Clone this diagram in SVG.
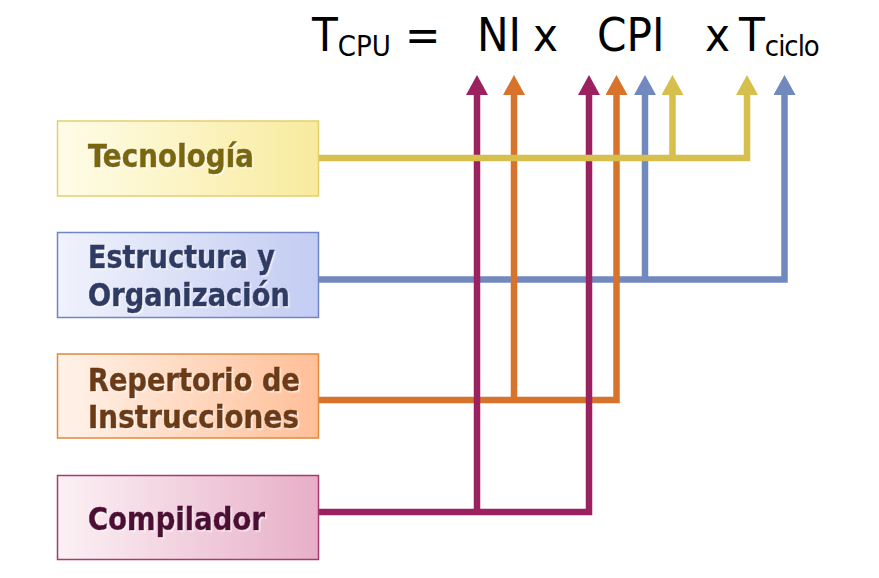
<svg xmlns="http://www.w3.org/2000/svg" width="879" height="578" viewBox="0 0 879 578">
<style>
.lbl{font-family:"DejaVu Sans Condensed","DejaVu Sans",sans-serif;font-weight:bold;font-size:32.5px;font-stretch:condensed;stroke-width:0.5}
.ttl{font-family:"DejaVu Sans Condensed","DejaVu Sans",sans-serif;font-size:47px;fill:#000;font-stretch:condensed}
.sub{font-size:29px}
.ln{fill:none;stroke-width:6.5;stroke-linejoin:miter;stroke-linecap:butt}
</style>
<defs>
<linearGradient id="gY" x1="0" y1="0" x2="1" y2="0"><stop offset="0" stop-color="#fffce8"/><stop offset="1" stop-color="#f8eb9e"/></linearGradient>
<linearGradient id="gB" x1="0" y1="0" x2="1" y2="0"><stop offset="0" stop-color="#f0f2fc"/><stop offset="1" stop-color="#c3ccf2"/></linearGradient>
<linearGradient id="gO" x1="0" y1="0" x2="1" y2="0"><stop offset="0" stop-color="#fff3ea"/><stop offset="1" stop-color="#ffbf98"/></linearGradient>
<linearGradient id="gP" x1="0" y1="0" x2="1" y2="0"><stop offset="0" stop-color="#fcf1f5"/><stop offset="1" stop-color="#e7afc7"/></linearGradient>
<filter id="sh" x="-5%" y="-20%" width="110%" height="140%"><feDropShadow dx="1.5" dy="1.5" stdDeviation="0.4" flood-color="#ffffff" flood-opacity="0.6"/></filter>
<marker id="aY" markerUnits="userSpaceOnUse" markerWidth="20" markerHeight="22" refX="0" refY="11" orient="auto" viewBox="0 0 20 22"><path d="M0,0 L20,11 L0,22 Z" fill="#d6bf4d"/></marker>
<marker id="aB" markerUnits="userSpaceOnUse" markerWidth="20" markerHeight="22" refX="0" refY="11" orient="auto" viewBox="0 0 20 22"><path d="M0,0 L20,11 L0,22 Z" fill="#7289bf"/></marker>
<marker id="aO" markerUnits="userSpaceOnUse" markerWidth="20" markerHeight="22" refX="0" refY="11" orient="auto" viewBox="0 0 20 22"><path d="M0,0 L20,11 L0,22 Z" fill="#d8732c"/></marker>
<marker id="aM" markerUnits="userSpaceOnUse" markerWidth="20" markerHeight="22" refX="0" refY="11" orient="auto" viewBox="0 0 20 22"><path d="M0,0 L20,11 L0,22 Z" fill="#9c2160"/></marker>
</defs>
<rect width="879" height="578" fill="#fff"/>

<g id="title">
<text class="ttl" x="312" y="51">T<tspan class="sub" dy="5">CPU</tspan></text>
<text class="ttl" x="405" y="51">=</text>
<text class="ttl" x="477" y="51">NI</text>
<text class="ttl" x="533" y="51">x</text>
<text class="ttl" x="597" y="51">CPI</text>
<text class="ttl" x="705" y="51">x</text>
<text class="ttl" x="739" y="51">T<tspan class="sub" dy="5" textLength="55">ciclo</tspan></text>
</g>

<g id="connectors">
<path class="ln" stroke="#7289bf" d="M318,279.5 H784.5 V95" marker-end="url(#aB)"/>
<path class="ln" stroke="#7289bf" d="M645,279.5 V95" marker-end="url(#aB)"/>
<path class="ln" stroke="#d8732c" d="M318,400 H616.5 V95" marker-end="url(#aO)"/>
<path class="ln" stroke="#d8732c" d="M514,400 V95" marker-end="url(#aO)"/>
<path class="ln" stroke="#9c2160" d="M318,512 H589 V95" marker-end="url(#aM)"/>
<path class="ln" stroke="#9c2160" d="M477,512 V95" marker-end="url(#aM)"/>
<path class="ln" stroke="#d6bf4d" d="M318,158 H747 V95" marker-end="url(#aY)"/>
<path class="ln" stroke="#d6bf4d" d="M672.5,158 V95" marker-end="url(#aY)"/>
</g>

<g id="tecnologia">
<rect x="57.5" y="121" width="261" height="75" fill="url(#gY)" stroke="#e3d06c" stroke-width="1.5"/>
<text class="lbl" x="88" y="166.5" fill="#7a6608" stroke="#7a6608" filter="url(#sh)" textLength="166" lengthAdjust="spacingAndGlyphs">Tecnología</text>
</g>
<g id="estructura">
<rect x="57.5" y="232.5" width="261" height="85" fill="url(#gB)" stroke="#7187c3" stroke-width="1.5"/>
<text class="lbl" x="88" y="268" fill="#2f3a63" stroke="#2f3a63" filter="url(#sh)" textLength="187" lengthAdjust="spacingAndGlyphs">Estructura y</text>
<text class="lbl" x="88" y="306" fill="#2f3a63" stroke="#2f3a63" filter="url(#sh)" textLength="202" lengthAdjust="spacingAndGlyphs">Organización</text>
</g>
<g id="repertorio">
<rect x="57.5" y="354" width="261" height="84" fill="url(#gO)" stroke="#e4893a" stroke-width="1.5"/>
<text class="lbl" x="88" y="390.5" fill="#6b3a12" stroke="#6b3a12" filter="url(#sh)" textLength="212" lengthAdjust="spacingAndGlyphs">Repertorio de</text>
<text class="lbl" x="88" y="428" fill="#6b3a12" stroke="#6b3a12" filter="url(#sh)" textLength="211" lengthAdjust="spacingAndGlyphs">Instrucciones</text>
</g>
<g id="compilador">
<rect x="57.5" y="475.5" width="261" height="84" fill="url(#gP)" stroke="#a83a72" stroke-width="1.5"/>
<text class="lbl" x="88" y="530" fill="#4d0c35" stroke="#4d0c35" filter="url(#sh)" textLength="177" lengthAdjust="spacingAndGlyphs">Compilador</text>
</g>
</svg>
